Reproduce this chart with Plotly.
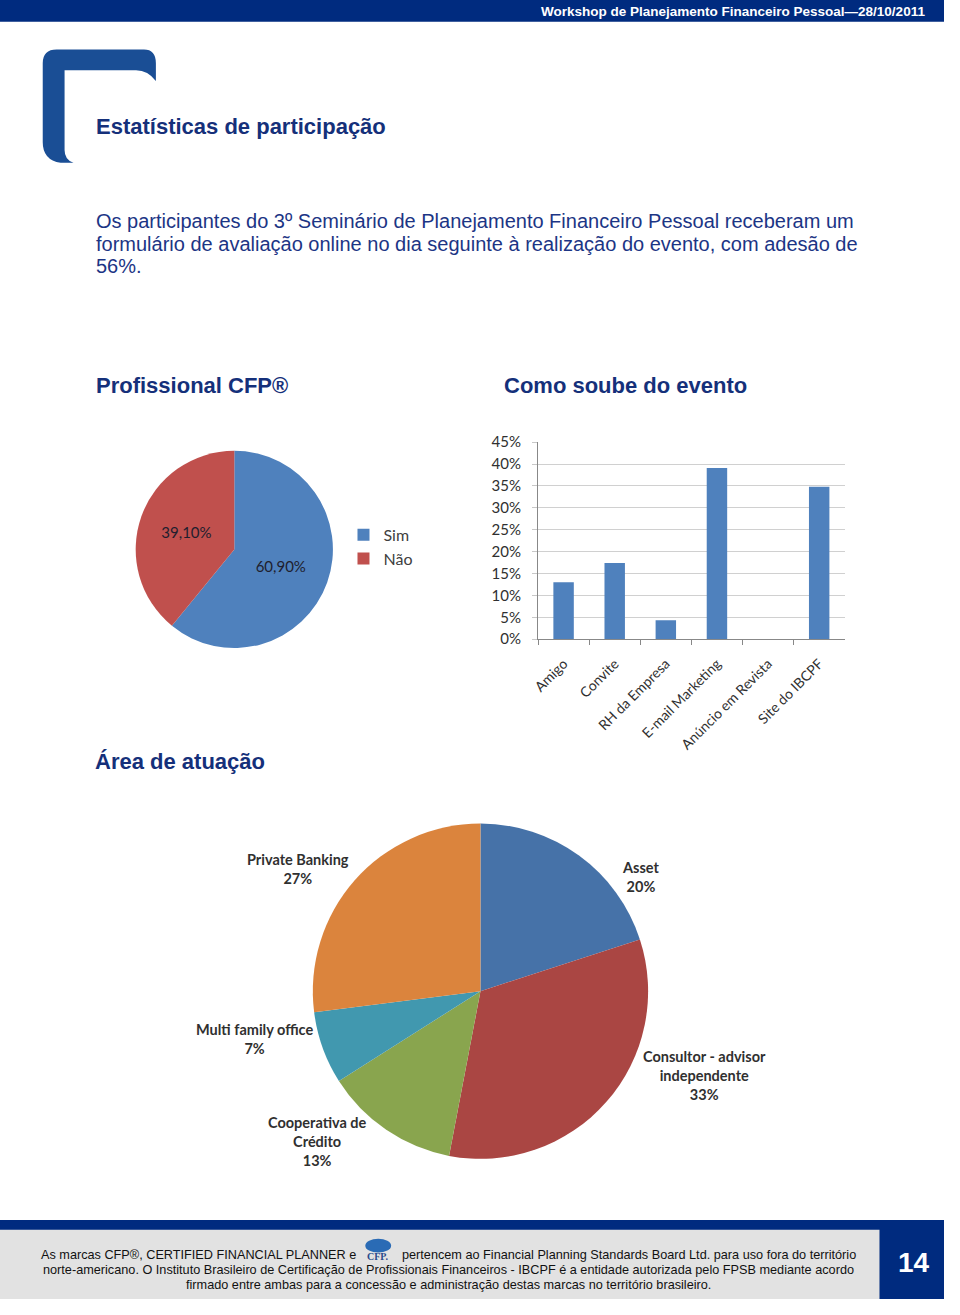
import plotly.graph_objects as go

# The page shows the figure with an 8px body margin, so the figure is
# 16px smaller than the page and every position is shifted by that margin.
PAGE_W, PAGE_H = 960, 1315
OFF = 8
W, H = PAGE_W - 2 * OFF, PAGE_H - 2 * OFF

def px(x):
    return (x - OFF) / W

def py(y):
    return 1 - (y - OFF) / H

# ---------------- data ----------------
cfp_labels = ["Sim", "Não"]
cfp_values = [60.9, 39.1]
cfp_colors = ["#4F81BD", "#C0504D"]

evento_categories = ["Amigo", "Convite", "RH da Empresa", "E-mail Marketing",
                     "Anúncio em Revista", "Site do IBCPF"]
evento_values = [13.0, 17.4, 4.3, 39.1, 0.0, 34.8]
evento_ticks = [0, 5, 10, 15, 20, 25, 30, 35, 40, 45]

area_labels = ["Asset", "Consultor - advisor<br>independente", "Cooperativa de<br>Crédito",
               "Multi family office", "Private Banking"]
area_values = [20, 33, 13, 7, 27]
area_colors = ["#4672A8", "#AA4643", "#89A54E", "#4198AF", "#DB843D"]
# label placement (page pixels) for the outside labels of the second pie
area_label_pos = [(646, 887), (711, 1088), (321, 1155), (257, 1051), (301, 879)]

NAVY = "#002B7F"
HEAD = "#15307A"
CHART_FONT = "Lato, Open Sans, sans-serif"
ARIAL = "Liberation Sans, Arial, sans-serif"

fig = go.Figure()

# Pie 1 - Profissional CFP
fig.add_trace(go.Pie(
    labels=cfp_labels, values=cfp_values,
    text=[f"{v:.2f}%".replace(".", ",") for v in cfp_values],
    texttemplate="%{text}", textposition="inside", insidetextorientation="horizontal",
    sort=False, direction="clockwise", rotation=0,
    marker=dict(colors=cfp_colors, line=dict(width=0)),
    textfont=dict(family=CHART_FONT, size=15, color="#1E1E2E"),
    domain=dict(x=[px(137), px(337)], y=[py(655), py(455)]),
    showlegend=True, hoverinfo="label+percent",
))

# Bar chart - Como soube do evento
fig.add_trace(go.Bar(
    x=evento_categories, y=evento_values, marker=dict(color="#4F81BD", line=dict(width=0)),
    width=0.4, showlegend=False, xaxis="x", yaxis="y",
))

# Pie 2 - Área de atuação
fig.add_trace(go.Pie(
    labels=area_labels, values=area_values, textinfo="none",
    sort=False, direction="clockwise", rotation=0,
    marker=dict(colors=area_colors, line=dict(width=0)),
    domain=dict(x=[px(315), px(655)], y=[py(1173), py(833)]),
    showlegend=False, hoverinfo="label+percent",
))

shapes = []
# top bar
shapes.append(dict(type="rect", xref="paper", yref="paper", x0=-0.1, x1=1.1, y0=py(20), y1=1.1,
                   fillcolor=NAVY, line=dict(width=0), layer="below"))
# bracket logo
def P(x, y):
    return px(x), py(y)
coords = [P(44, 62), P(44, 48), P(58, 48), P(146, 48), P(158, 48), P(158, 62),
          P(158, 80), P(150, 69), P(138, 69), P(66, 69), P(66, 150), P(66, 160),
          P(75, 163), P(62, 163), P(44, 160), P(44, 142)]
path = "M {} {} Q {} {} {} {} L {} {} Q {} {} {} {} L {} {} Q {} {} {} {} L {} {} L {} {} Q {} {} {} {} L {} {} Q {} {} {} {} Z".format(
    *[v for c in coords for v in c])
shapes.append(dict(type="path", xref="paper", yref="paper", path=path,
                   fillcolor="#1A4E95", line=dict(width=0)))
# footer
shapes.append(dict(type="rect", xref="paper", yref="paper", x0=-0.1, x1=1.1, y0=-0.1, y1=py(1235),
                   fillcolor=NAVY, line=dict(width=0), layer="below"))
shapes.append(dict(type="rect", xref="paper", yref="paper", x0=-0.1, x1=px(887), y0=-0.1, y1=py(1245),
                   fillcolor="#E2E2E2", line=dict(width=0), layer="below"))
# CFP logo circle
shapes.append(dict(type="circle", xref="paper", yref="paper", x0=px(369), x1=px(395),
                   y0=py(1268), y1=py(1254), fillcolor="#2A6BB5", line=dict(width=0)))

annotations = []
def txt(x, y, s, size, color, family=ARIAL, bold=False, anchor="left"):
    annotations.append(dict(x=px(x), y=py(y), xref="paper", yref="paper", text=s,
                            showarrow=False, xanchor=anchor, yanchor="middle",
                            font=dict(family=family, size=size, color=color,
                                      weight="bold" if bold else "normal")))

txt(935, 10, "Workshop de Planejamento Financeiro Pessoal—28/10/2011", 13.5, "white",
    bold=True, anchor="right")
txt(96, 126, "Estatísticas de participação", 22, HEAD, bold=True)
para = ["Os participantes do 3º Seminário de Planejamento Financeiro Pessoal receberam um",
        "formulário de avaliação online no dia seguinte à realização do evento, com adesão de",
        "56%."]
for i, line in enumerate(para):
    txt(96, 222 + 23 * i, line, 20, "#1C3585")
txt(96, 389, "Profissional CFP®", 22, HEAD, bold=True)
txt(507, 389, "Como soube do evento", 22, HEAD, bold=True)
txt(95, 770, "Área de atuação", 22, HEAD, bold=True)

# pie 2 outside labels
for lab, val, (lx, ly) in zip(area_labels, area_values, area_label_pos):
    txt(lx, ly, f"{lab}<br>{val}%", 14.5, "#303030", family=CHART_FONT, bold=True, anchor="center")

FOOT = ARIAL
FS = 12.7
txt(362, 1271, "As marcas CFP®, CERTIFIED FINANCIAL PLANNER e", FS, "#111", family=FOOT, anchor="right")
txt(382, 1272, "CFP.", 10, "#2A4A8A", family="Liberation Serif", bold=True, anchor="center")
txt(404, 1271, "pertencem ao Financial Planning Standards Board Ltd. para uso fora do território",
    FS, "#111", family=FOOT)
txt(453, 1286, "norte-americano. O Instituto Brasileiro de Certificação de Profissionais Financeiros - IBCPF é a entidade autorizada pelo FPSB mediante acordo",
    FS, "#111", family=FOOT, anchor="center")
txt(453, 1301, "firmado entre ambas para a concessão e administração destas marcas no território brasileiro.",
    FS, "#111", family=FOOT, anchor="center")
txt(922, 1278, "14", 28, "white", bold=True, anchor="center")

fig.update_layout(
    width=W, height=H, margin=dict(l=0, r=0, t=0, b=0),
    paper_bgcolor="white", plot_bgcolor="white",
    shapes=shapes, annotations=annotations,
    legend=dict(x=px(347), y=py(523), xanchor="left", yanchor="top",
                font=dict(family=CHART_FONT, size=16, color="#404040"),
                bgcolor="rgba(0,0,0,0)", itemwidth=30, tracegroupgap=0),
    xaxis=dict(domain=[px(543), px(852)], anchor="y", type="category",
               tickangle=-45, tickfont=dict(family=CHART_FONT, size=14, color="#303030"),
               showline=True, linecolor="#888", linewidth=1,
               ticks="outside", tickson="boundaries", ticklen=5, tickcolor="#888",
               ticklabelstandoff=10,
               showgrid=False, fixedrange=True),
    yaxis=dict(domain=[py(646), py(446)], anchor="x", range=[0, 45.05],
               tickvals=evento_ticks, ticktext=[f"{t}%" for t in evento_ticks],
               tickfont=dict(family=CHART_FONT, size=15, color="#303030"),
               showline=True, linecolor="#888", linewidth=1,
               ticks="outside", ticklen=5, tickcolor="#C8C8C8",
               ticklabelstandoff=8,
               showgrid=True, gridcolor="#D0D0D0", gridwidth=1, zeroline=False,
               fixedrange=True),
)

fig.write_html("out.html")
